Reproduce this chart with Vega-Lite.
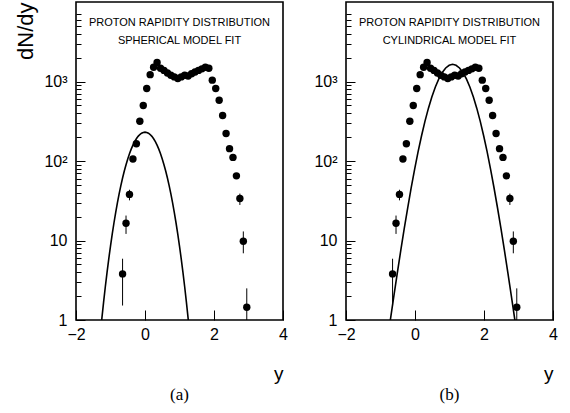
{
  "$schema": "https://vega.github.io/schema/vega-lite/v6.json",
  "padding": {"left": 14, "top": 1, "right": 5, "bottom": 5},
  "background": "white",
  "spacing": 63,
  "bounds": "flush",
  "config": {
    "view": {"stroke": "black", "strokeWidth": 1.6},
    "font": "Liberation Sans",
    "axis": {"grid": false, "domain": false, "tickColor": "black", "labelColor": "black", "titleColor": "black", "titleFontWeight": "normal", "labelOverlap": false, "labelFlush": false}
  },
  "datasets": {
    "pts": [
      {"x": -0.65, "y": 3.8}, {"x": -0.55, "y": 16.5}, {"x": -0.45, "y": 38}, {"x": -0.35, "y": 106},
      {"x": -0.25, "y": 165}, {"x": -0.15, "y": 316}, {"x": -0.05, "y": 499}, {"x": 0.05, "y": 818},
      {"x": 0.15, "y": 1220}, {"x": 0.25, "y": 1513}, {"x": 0.35, "y": 1740}, {"x": 0.45, "y": 1470},
      {"x": 0.55, "y": 1380}, {"x": 0.65, "y": 1279}, {"x": 0.75, "y": 1199}, {"x": 0.85, "y": 1143},
      {"x": 0.95, "y": 1091}, {"x": 1.05, "y": 1143}, {"x": 1.15, "y": 1199}, {"x": 1.25, "y": 1170},
      {"x": 1.35, "y": 1254}, {"x": 1.45, "y": 1315}, {"x": 1.55, "y": 1380}, {"x": 1.65, "y": 1443},
      {"x": 1.75, "y": 1513}, {"x": 1.85, "y": 1470}, {"x": 1.95, "y": 1040}, {"x": 2.05, "y": 818},
      {"x": 2.15, "y": 580}, {"x": 2.25, "y": 374}, {"x": 2.35, "y": 222}, {"x": 2.45, "y": 143},
      {"x": 2.55, "y": 111}, {"x": 2.65, "y": 65}, {"x": 2.75, "y": 33.8}, {"x": 2.85, "y": 9.8},
      {"x": 2.95, "y": 1.45}
    ],
    "err": [
      {"x": -0.65, "lo": 1.52, "hi": 5.9}, {"x": -0.55, "lo": 12.1, "hi": 20.6}, {"x": -0.45, "lo": 32, "hi": 43.5},
      {"x": 2.75, "lo": 28, "hi": 38.9}, {"x": 2.85, "lo": 6.9, "hi": 13}, {"x": 2.95, "lo": 0.8, "hi": 2.5}
    ],
    "sph": [
      {"x": -1.3, "y": 0.633}, {"x": -1.25, "y": 1.046}, {"x": -1.2, "y": 1.68}, {"x": -1.15, "y": 2.62},
      {"x": -1.1, "y": 3.97}, {"x": -1.05, "y": 5.89}, {"x": -1.0, "y": 8.52}, {"x": -0.95, "y": 12.0},
      {"x": -0.9, "y": 16.6}, {"x": -0.85, "y": 22.4}, {"x": -0.8, "y": 29.7}, {"x": -0.75, "y": 38.5},
      {"x": -0.7, "y": 49.0}, {"x": -0.65, "y": 61.1}, {"x": -0.6, "y": 74.8}, {"x": -0.55, "y": 89.9},
      {"x": -0.5, "y": 106.2}, {"x": -0.45, "y": 123.4}, {"x": -0.4, "y": 141.0}, {"x": -0.35, "y": 158.4},
      {"x": -0.3, "y": 175.2}, {"x": -0.25, "y": 190.6}, {"x": -0.2, "y": 204.2}, {"x": -0.15, "y": 215.4},
      {"x": -0.1, "y": 223.8}, {"x": -0.05, "y": 228.9}, {"x": 0, "y": 230.7},
      {"x": 0.05, "y": 228.9}, {"x": 0.1, "y": 223.8}, {"x": 0.15, "y": 215.4}, {"x": 0.2, "y": 204.2},
      {"x": 0.25, "y": 190.6}, {"x": 0.3, "y": 175.2}, {"x": 0.35, "y": 158.4}, {"x": 0.4, "y": 141.0},
      {"x": 0.45, "y": 123.4}, {"x": 0.5, "y": 106.2}, {"x": 0.55, "y": 89.9}, {"x": 0.6, "y": 74.8},
      {"x": 0.65, "y": 61.1}, {"x": 0.7, "y": 49.0}, {"x": 0.75, "y": 38.5}, {"x": 0.8, "y": 29.7},
      {"x": 0.85, "y": 22.4}, {"x": 0.9, "y": 16.6}, {"x": 0.95, "y": 12.0}, {"x": 1.0, "y": 8.52},
      {"x": 1.05, "y": 5.89}, {"x": 1.1, "y": 3.97}, {"x": 1.15, "y": 2.62}, {"x": 1.2, "y": 1.68},
      {"x": 1.25, "y": 1.046}, {"x": 1.3, "y": 0.633}
    ],
    "cyl": [
      {"x": -0.81, "y": 0.52}, {"x": -0.71, "y": 1.035}, {"x": -0.61, "y": 2.04}, {"x": -0.51, "y": 3.98},
      {"x": -0.41, "y": 7.61}, {"x": -0.31, "y": 14.3}, {"x": -0.21, "y": 26.0}, {"x": -0.11, "y": 46.1},
      {"x": -0.01, "y": 79}, {"x": 0.09, "y": 131}, {"x": 0.19, "y": 208}, {"x": 0.29, "y": 317},
      {"x": 0.39, "y": 462}, {"x": 0.49, "y": 643}, {"x": 0.59, "y": 854}, {"x": 0.69, "y": 1080},
      {"x": 0.79, "y": 1297}, {"x": 0.89, "y": 1480}, {"x": 0.99, "y": 1601}, {"x": 1.09, "y": 1644},
      {"x": 1.19, "y": 1601}, {"x": 1.29, "y": 1480}, {"x": 1.39, "y": 1297}, {"x": 1.49, "y": 1080},
      {"x": 1.59, "y": 854}, {"x": 1.69, "y": 643}, {"x": 1.79, "y": 462}, {"x": 1.89, "y": 317},
      {"x": 1.99, "y": 208}, {"x": 2.09, "y": 131}, {"x": 2.19, "y": 79}, {"x": 2.29, "y": 46.1},
      {"x": 2.39, "y": 26.0}, {"x": 2.49, "y": 14.3}, {"x": 2.59, "y": 7.61}, {"x": 2.69, "y": 3.98},
      {"x": 2.79, "y": 2.04}, {"x": 2.89, "y": 1.035}, {"x": 2.99, "y": 0.52}
    ]
  },
  "hconcat": [
    {
      "width": 207,
      "height": 318,
      "title": {"text": "(a)", "orient": "bottom", "anchor": "middle", "frame": "group", "font": "Liberation Serif", "fontSize": 17, "fontWeight": "normal", "color": "black", "offset": 4},
      "layer": [
        {"data": {"name": "sph"}, "mark": {"type": "line", "color": "black", "strokeWidth": 1.6, "clip": true},
          "encoding": {
            "x": {"field": "x", "type": "quantitative", "scale": {"domain": [-2, 4]},
              "axis": {"values": [-2, -1.5, -1, -0.5, 0, 0.5, 1, 1.5, 2, 2.5, 3, 3.5, 4],
                "labelExpr": "datum.value == -2 ? '−2' : datum.value == 0 ? '0' : datum.value == 2 ? '2' : datum.value == 4 ? '4' : ''",
                "tickSize": {"condition": {"test": "datum.value == -2 || datum.value == 0 || datum.value == 2 || datum.value == 4", "value": -10}, "value": -5},
                "labelPadding": 16, "labelFontSize": 16, "title": "y", "titleAnchor": "end", "titleFontSize": 19, "titlePadding": 22}},
            "y": {"field": "y", "type": "quantitative", "scale": {"type": "log", "domain": [1, 7100]},
              "axis": {"values": [1, 2, 3, 4, 5, 6, 7, 8, 9, 10, 20, 30, 40, 50, 60, 70, 80, 90, 100, 200, 300, 400, 500, 600, 700, 800, 900, 1000, 2000, 3000, 4000, 5000, 6000, 7000],
                "labelExpr": "datum.value == 1 ? '1 ' : datum.value == 10 ? '10 ' : datum.value == 100 ? '10²' : datum.value == 1000 ? '10³' : ''",
                "labelFontSize": {"condition": {"test": "datum.value == 1 || datum.value == 10 || datum.value == 100 || datum.value == 1000", "value": 16}, "value": 1},
                "tickSize": {"condition": {"test": "datum.value == 1 || datum.value == 10 || datum.value == 100 || datum.value == 1000", "value": -9}, "value": -5},
                "labelPadding": 18, "title": "dN/dy", "titleAnchor": "end", "titleFontSize": 22, "titlePadding": 6}}
          }},
        {"data": {"name": "err"}, "mark": {"type": "rule", "color": "black", "strokeWidth": 1, "clip": true},
          "encoding": {"x": {"field": "x", "type": "quantitative"}, "y": {"field": "lo", "type": "quantitative"}, "y2": {"field": "hi"}}},
        {"data": {"name": "pts"}, "mark": {"type": "circle", "size": 55, "color": "black", "opacity": 1},
          "encoding": {"x": {"field": "x", "type": "quantitative"}, "y": {"field": "y", "type": "quantitative"}}},
        {"data": {"values": [{}]}, "mark": {"type": "text", "text": "PROTON RAPIDITY DISTRIBUTION", "fontSize": 11, "fill": "black", "baseline": "middle", "align": "center"},
          "encoding": {"x": {"datum": 1}, "y": {"datum": 5450}}},
        {"data": {"values": [{}]}, "mark": {"type": "text", "text": "SPHERICAL MODEL FIT", "fontSize": 11, "fill": "black", "baseline": "middle", "align": "center"},
          "encoding": {"x": {"datum": 1}, "y": {"datum": 3250}}}
      ]
    },
    {
      "width": 207,
      "height": 318,
      "title": {"text": "(b)", "orient": "bottom", "anchor": "middle", "frame": "group", "font": "Liberation Serif", "fontSize": 17, "fontWeight": "normal", "color": "black", "offset": 4},
      "layer": [
        {"data": {"name": "cyl"}, "mark": {"type": "line", "color": "black", "strokeWidth": 1.6, "clip": true},
          "encoding": {
            "x": {"field": "x", "type": "quantitative", "scale": {"domain": [-2, 4]},
              "axis": {"values": [-2, -1.5, -1, -0.5, 0, 0.5, 1, 1.5, 2, 2.5, 3, 3.5, 4],
                "labelExpr": "datum.value == -2 ? '−2' : datum.value == 0 ? '0' : datum.value == 2 ? '2' : datum.value == 4 ? '4' : ''",
                "tickSize": {"condition": {"test": "datum.value == -2 || datum.value == 0 || datum.value == 2 || datum.value == 4", "value": -10}, "value": -5},
                "labelPadding": 16, "labelFontSize": 16, "title": "y", "titleAnchor": "end", "titleFontSize": 19, "titlePadding": 22}},
            "y": {"field": "y", "type": "quantitative", "scale": {"type": "log", "domain": [1, 7100]},
              "axis": {"values": [1, 2, 3, 4, 5, 6, 7, 8, 9, 10, 20, 30, 40, 50, 60, 70, 80, 90, 100, 200, 300, 400, 500, 600, 700, 800, 900, 1000, 2000, 3000, 4000, 5000, 6000, 7000],
                "labelExpr": "datum.value == 1 ? '1 ' : datum.value == 10 ? '10 ' : datum.value == 100 ? '10²' : datum.value == 1000 ? '10³' : ''",
                "labelFontSize": {"condition": {"test": "datum.value == 1 || datum.value == 10 || datum.value == 100 || datum.value == 1000", "value": 16}, "value": 1},
                "tickSize": {"condition": {"test": "datum.value == 1 || datum.value == 10 || datum.value == 100 || datum.value == 1000", "value": -9}, "value": -5},
                "labelPadding": 18, "title": null}}
          }},
        {"data": {"name": "err"}, "mark": {"type": "rule", "color": "black", "strokeWidth": 1, "clip": true},
          "encoding": {"x": {"field": "x", "type": "quantitative"}, "y": {"field": "lo", "type": "quantitative"}, "y2": {"field": "hi"}}},
        {"data": {"name": "pts"}, "mark": {"type": "circle", "size": 55, "color": "black", "opacity": 1},
          "encoding": {"x": {"field": "x", "type": "quantitative"}, "y": {"field": "y", "type": "quantitative"}}},
        {"data": {"values": [{}]}, "mark": {"type": "text", "text": "PROTON RAPIDITY DISTRIBUTION", "fontSize": 11, "fill": "black", "baseline": "middle", "align": "center"},
          "encoding": {"x": {"datum": 1}, "y": {"datum": 5450}}},
        {"data": {"values": [{}]}, "mark": {"type": "text", "text": "CYLINDRICAL MODEL FIT", "fontSize": 11, "fill": "black", "baseline": "middle", "align": "center"},
          "encoding": {"x": {"datum": 1}, "y": {"datum": 3250}}}
      ]
    }
  ]
}
